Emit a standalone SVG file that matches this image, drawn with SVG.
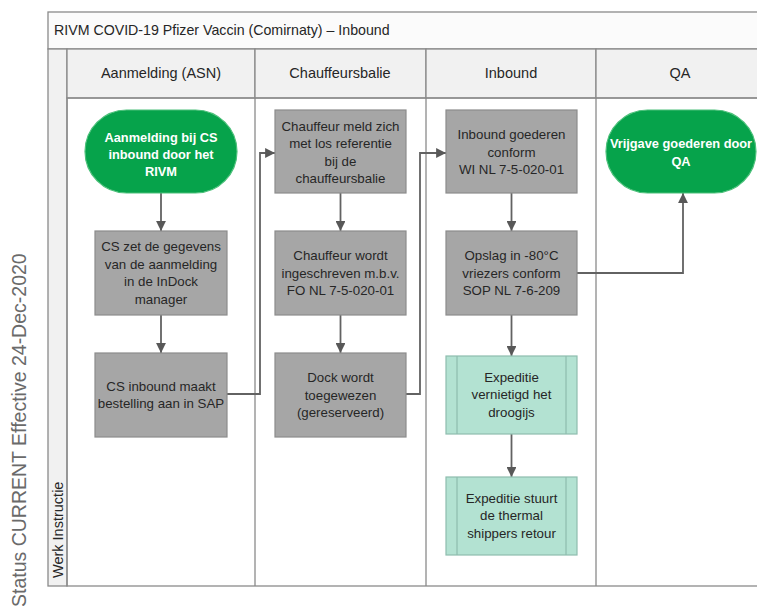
<svg xmlns="http://www.w3.org/2000/svg" width="757" height="610" viewBox="0 0 757 610">
<style>
  text { font-family: "Liberation Sans", Arial, sans-serif; }
  .frame { fill: none; stroke: #8a8a8a; stroke-width: 1.3; }
  .hdr { fill: #f1f1f1; stroke: #8a8a8a; stroke-width: 1.3; }
  .ttl { font-size: 14.2px; fill: #262626; }
  .lane { font-size: 14.5px; fill: #262626; text-anchor: middle; }
  .box { fill: #a6a6a6; stroke: #8c8c8c; stroke-width: 1.2; }
  .term { fill: #06a34b; stroke: #4cc07a; stroke-width: 1.2; }
  .sub { fill: #b3e2d2; stroke: #8ebdae; stroke-width: 1.2; }
  .sub-line { stroke: #8ebdae; stroke-width: 1.2; }
  .t { font-size: 13.3px; fill: #262626; text-anchor: middle; }
  .tw { font-size: 12.8px; fill: #ffffff; font-weight: bold; text-anchor: middle; }
  .conn { fill: none; stroke: #626262; stroke-width: 1.8; }
</style>
<defs>
  <marker id="arr" viewBox="0 0 10 10" refX="10" refY="5" markerWidth="5.5" markerHeight="5.5" orient="auto" markerUnits="strokeWidth">
    <path d="M0,0 L10,5 L0,10 z" fill="#585858"/>
  </marker>
</defs>
<rect width="757" height="610" fill="#ffffff"/>

<g id="pool">
  <rect x="48" y="12" width="720" height="37" fill="#fbfbfb" stroke="#8a8a8a" stroke-width="1.3"/>
  <text class="ttl" x="54" y="35">RIVM COVID-19 Pfizer Vaccin (Comirnaty) – Inbound</text>
  <rect x="48" y="49" width="19" height="537" class="hdr"/>
  <rect x="67" y="49" width="188" height="49" class="hdr"/>
  <rect x="255" y="49" width="171" height="49" class="hdr"/>
  <rect x="426" y="49" width="170" height="49" class="hdr"/>
  <rect x="596" y="49" width="172" height="49" class="hdr"/>
  <text class="lane" x="161" y="78">Aanmelding (ASN)</text>
  <text class="lane" x="340" y="78">Chauffeursbalie</text>
  <text class="lane" x="511" y="78">Inbound</text>
  <text class="lane" x="680" y="78">QA</text>
  <rect x="67" y="98" width="701" height="488" class="frame"/>
  <line x1="255" y1="98" x2="255" y2="586" class="frame"/>
  <line x1="426" y1="98" x2="426" y2="586" class="frame"/>
  <line x1="596" y1="98" x2="596" y2="586" class="frame"/>
  <text transform="translate(63,578) rotate(-90)" font-size="14.5" fill="#262626">Werk Instructie</text>
</g>

<text transform="translate(26,607) rotate(-90)" font-size="19.5" fill="#6a6a6a">Status CURRENT Effective 24-Dec-2020</text>

<g id="connectors">
  <path class="conn" d="M161,193 V231" marker-end="url(#arr)"/>
  <path class="conn" d="M161,315 V353" marker-end="url(#arr)"/>
  <path class="conn" d="M227,394 H260 V153 H275" marker-end="url(#arr)"/>
  <path class="conn" d="M340.5,193 V231" marker-end="url(#arr)"/>
  <path class="conn" d="M340.5,315 V353" marker-end="url(#arr)"/>
  <path class="conn" d="M406,394 H420 V153 H446" marker-end="url(#arr)"/>
  <path class="conn" d="M511.5,193 V231" marker-end="url(#arr)"/>
  <path class="conn" d="M577,273 H683 V193" marker-end="url(#arr)"/>
  <path class="conn" d="M511.5,315 V356" marker-end="url(#arr)"/>
  <path class="conn" d="M511.5,434 V477" marker-end="url(#arr)"/>
</g>

<g id="n1">
  <rect x="85" y="110" width="152" height="83" rx="41.5" class="term"/>
  <text class="tw" x="161" y="142">Aanmelding bij CS</text>
  <text class="tw" x="161" y="159">inbound door het</text>
  <text class="tw" x="161" y="176">RIVM</text>
</g>
<g id="n2">
  <rect x="95" y="231" width="132" height="84" class="box"/>
  <text class="t" x="161" y="251">CS zet de gegevens</text>
  <text class="t" x="161" y="268.5">van de aanmelding</text>
  <text class="t" x="161" y="286">in de InDock</text>
  <text class="t" x="161" y="303.5">manager</text>
</g>
<g id="n3">
  <rect x="95" y="353" width="132" height="84" class="box"/>
  <text class="t" x="161" y="390.5">CS inbound maakt</text>
  <text class="t" x="161" y="408">bestelling aan in SAP</text>
</g>
<g id="n4">
  <rect x="275" y="110" width="131" height="83" class="box"/>
  <text class="t" x="340.5" y="130.5">Chauffeur meld zich</text>
  <text class="t" x="340.5" y="148">met los referentie</text>
  <text class="t" x="340.5" y="165.5">bij de</text>
  <text class="t" x="340.5" y="183">chauffeursbalie</text>
</g>
<g id="n5">
  <rect x="275" y="231" width="131" height="84" class="box"/>
  <text class="t" x="340.5" y="260">Chauffeur wordt</text>
  <text class="t" x="340.5" y="277.5">ingeschreven m.b.v.</text>
  <text class="t" x="340.5" y="295">FO NL 7-5-020-01</text>
</g>
<g id="n6">
  <rect x="275" y="353" width="131" height="84" class="box"/>
  <text class="t" x="340.5" y="382">Dock wordt</text>
  <text class="t" x="340.5" y="399.5">toegewezen</text>
  <text class="t" x="340.5" y="417">(gereserveerd)</text>
</g>
<g id="n7">
  <rect x="446" y="110" width="131" height="83" class="box"/>
  <text class="t" x="511.5" y="139">Inbound goederen</text>
  <text class="t" x="511.5" y="156.5">conform</text>
  <text class="t" x="511.5" y="174">WI NL 7-5-020-01</text>
</g>
<g id="n8">
  <rect x="446" y="231" width="131" height="84" class="box"/>
  <text class="t" x="511.5" y="260">Opslag in -80°C</text>
  <text class="t" x="511.5" y="277.5">vriezers conform</text>
  <text class="t" x="511.5" y="295">SOP NL 7-6-209</text>
</g>
<g id="n9">
  <rect x="606" y="110" width="150" height="83" rx="41.5" class="term"/>
  <text class="tw" x="681" y="148">Vrijgave goederen door</text>
  <text class="tw" x="681" y="166">QA</text>
</g>
<g id="n10">
  <rect x="446" y="356" width="131" height="78" class="sub"/>
  <line x1="457" y1="356" x2="457" y2="434" class="sub-line"/>
  <line x1="566" y1="356" x2="566" y2="434" class="sub-line"/>
  <text class="t" x="511.5" y="381.5">Expeditie</text>
  <text class="t" x="511.5" y="399">vernietigd het</text>
  <text class="t" x="511.5" y="416.5">droogijs</text>
</g>
<g id="n11">
  <rect x="446" y="477" width="131" height="78" class="sub"/>
  <line x1="457" y1="477" x2="457" y2="555" class="sub-line"/>
  <line x1="566" y1="477" x2="566" y2="555" class="sub-line"/>
  <text class="t" x="511.5" y="502.5">Expeditie stuurt</text>
  <text class="t" x="511.5" y="520">de thermal</text>
  <text class="t" x="511.5" y="537.5">shippers retour</text>
</g>
</svg>
